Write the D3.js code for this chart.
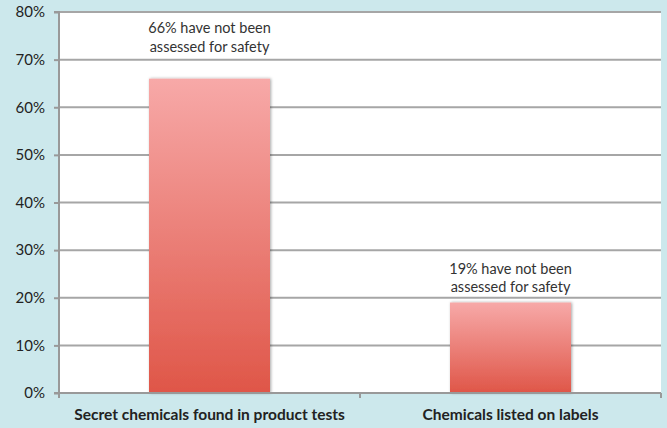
<!DOCTYPE html>
<html>
<head>
<meta charset="utf-8">
<script src="https://cdn.jsdelivr.net/npm/d3@7"></script>
<style>
  body { margin: 0; background: #cce8ec; }
  svg { display: block; }
  svg text { font-family: Lato, "Open Sans", sans-serif; }
</style>
</head>
<body>
<svg id="chart" width="667" height="428"></svg>
<script>
// chart data
const categories = ["Secret chemicals found in product tests", "Chemicals listed on labels"];
const values = [66, 19];
const notes = [["66% have not been", "assessed for safety"], ["19% have not been", "assessed for safety"]];
const noteAt = [75.5, 25]; // value level of the first note line's baseline
const yTicks = [0, 10, 20, 30, 40, 50, 60, 70, 80];

const svg = d3.select("#chart");
const margin = { top: 12, right: 6, bottom: 35, left: 59 };
const width = 667 - margin.left - margin.right;
const height = 428 - margin.top - margin.bottom;

const x = d3.scaleBand().domain(categories).range([0, width]).paddingInner(0).paddingOuter(0);
const y = d3.scaleLinear().domain([0, 80]).range([height, 0]);

const defs = svg.append("defs");
const grad = defs.append("linearGradient")
  .attr("id", "barGrad").attr("x1", 0).attr("y1", 0).attr("x2", 0).attr("y2", 1);
grad.append("stop").attr("offset", "0%").attr("stop-color", "#f7a9a8");
grad.append("stop").attr("offset", "100%").attr("stop-color", "#df5648");

const shadow = defs.append("filter").attr("id", "shadow")
  .attr("x", "-10%").attr("y", "-10%").attr("width", "120%").attr("height", "120%");
shadow.append("feDropShadow").attr("dx", 1).attr("dy", 0).attr("stdDeviation", 1.5)
  .attr("flood-color", "#000").attr("flood-opacity", 0.35);

const g = svg.append("g").attr("transform", `translate(${margin.left},${margin.top})`);

// white plot area
g.append("rect").attr("width", width).attr("height", height).attr("fill", "#fff");

// gridlines
g.selectAll(".grid").data(yTicks.filter(d => d > 0)).join("line")
  .attr("x1", 0).attr("x2", width)
  .attr("y1", d => y(d)).attr("y2", d => y(d))
  .attr("stroke", "#a6a6a6").attr("stroke-width", 2);

// bars
const barW = 121;
g.selectAll(".bar").data(values).join("rect")
  .attr("x", (d, i) => x(categories[i]) + (x.bandwidth() - barW) / 2)
  .attr("y", d => y(d))
  .attr("width", barW)
  .attr("height", d => height - y(d))
  .attr("fill", "url(#barGrad)")
  .attr("filter", "url(#shadow)");

// annotations
notes.forEach((lines, i) => {
  const cx = x(categories[i]) + x.bandwidth() / 2;
  const t = g.append("text")
    .attr("x", cx)
    .attr("y", y(noteAt[i]))
    .attr("text-anchor", "middle")
    .attr("font-size", 14.5)
    .attr("fill", "#333");
  lines.forEach((l, k) => {
    t.append("tspan").attr("x", cx).attr("dy", k === 0 ? 0 : 18.5).text(l);
  });
});

// y axis
const yAxis = g.append("g")
  .call(d3.axisLeft(y).tickValues(yTicks).tickFormat(d => d + "%").tickSize(5).tickPadding(9));
yAxis.select(".domain").attr("stroke", "#999").attr("stroke-width", 2).attr("d", `M-5,${height}H0V0H-5`);
yAxis.selectAll(".tick line").attr("stroke", "#999").attr("stroke-width", 2);
yAxis.selectAll(".tick text").attr("font-size", 15).attr("fill", "#222");

// x axis
const xAxis = g.append("g").attr("transform", `translate(0,${height})`)
  .call(d3.axisBottom(x).tickSize(0).tickPadding(16));
xAxis.select(".domain").attr("stroke", "#999").attr("stroke-width", 2).attr("d", `M0,0H${width}`);
xAxis.selectAll(".tick text").attr("font-size", 15.5).attr("font-weight", "bold").attr("fill", "#222");
g.selectAll(".xdiv").data([0, width / 2, width]).join("line")
  .attr("x1", d => d).attr("x2", d => d)
  .attr("y1", height).attr("y2", height + 5)
  .attr("stroke", "#999").attr("stroke-width", 2);
</script>
</body>
</html>
